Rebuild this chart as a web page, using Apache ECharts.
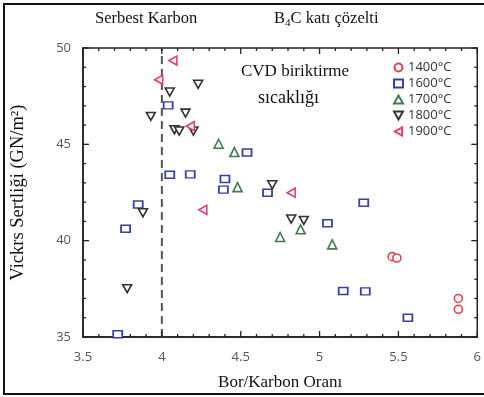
<!DOCTYPE html>
<html>
<head>
<meta charset="utf-8">
<script src="https://cdn.jsdelivr.net/npm/echarts@6/dist/echarts.min.js"></script>
<style>
  html, body { margin: 0; padding: 0; background: #fff; }
  #chart { width: 484px; height: 397px; }
</style>
</head>
<body>
<div id="chart"></div>
<script>
// sıcaklıklar (legend)
var temps = ['1400°C', '1600°C', '1700°C', '1800°C', '1900°C'];

// [Bor/Karbon oranı, Vickers sertliği]
var pts1400 = [[5.46, 39.17], [5.49, 39.1], [5.88, 37.0], [5.88, 36.44]];
var pts1600 = [[4.04, 47.02], [4.05, 43.42], [4.18, 43.44], [4.54, 44.58], [4.40, 43.2],
  [4.39, 42.65], [4.67, 42.49], [5.28, 41.97], [5.05, 40.9], [5.15, 37.39],
  [5.29, 37.37], [5.56, 36.0], [3.85, 41.88], [3.77, 40.62], [3.72, 35.14]];
var pts1700 = [[4.36, 45.03], [4.46, 44.6], [4.48, 42.78], [4.88, 40.59], [4.75, 40.19], [5.08, 39.81]];
var pts1800 = [[4.23, 48.12], [4.05, 47.71], [3.93, 46.45], [4.15, 46.62], [4.08, 45.76],
  [4.11, 45.69], [4.20, 45.69], [3.88, 41.45], [3.78, 37.51], [4.70, 42.9],
  [4.82, 41.12], [4.90, 41.05]];
var pts1900 = [[4.07, 49.35], [3.98, 48.35], [4.18, 45.94], [4.26, 41.6], [4.82, 42.49]];

var xRange = [3.5, 6];
var yRange = [35, 50];
var boundary = 4.0;   // serbest karbon / B4C sınırı

var colors = ['#e0434f', '#3b3fa3', '#3d7d52', '#333333', '#e23a82'];
// aşağı ve sola bakan üçgenler path olarak, legend de aynı simgeyi alsın
var symbols = ['circle', 'rect', 'triangle',
  'path://M0,0 L10,0 L5,9 Z',
  'path://M9,0 L9,10 L0,5 Z'];
var sizes = [8, [9, 7], 9, [9, 8], [8, 9]];
var allPts = [pts1400, pts1600, pts1700, pts1800, pts1900];

var chart = echarts.init(document.getElementById('chart'));

var serif = 'Liberation Serif';
var sans = 'Open Sans';

// kenar tikleri: ince dolu dikdörtgenler (x her 0.1, y her 1), dört kenarda içe doğru
var tickData = [];
for (var i = 35; i <= 60; i++) {
  var lx = i % 5 === 0 ? 6 : 3;
  tickData.push({ value: [i / 10, yRange[0]], symbolSize: [1.3, lx], symbolOffset: [0, -lx / 2] });
  tickData.push({ value: [i / 10, yRange[1]], symbolSize: [1.3, lx], symbolOffset: [0, lx / 2] });
}
for (var j = 35; j <= 50; j++) {
  var ly = j % 5 === 0 ? 6 : 3;
  tickData.push({ value: [xRange[0], j], symbolSize: [ly, 1.3], symbolOffset: [ly / 2, 0] });
  tickData.push({ value: [xRange[1], j], symbolSize: [ly, 1.3], symbolOffset: [-ly / 2, 0] });
}

var series = temps.map(function (t, i) {
  return {
    name: t,
    type: 'scatter',
    data: allPts[i],
    symbol: symbols[i],
    symbolSize: sizes[i],
    itemStyle: { color: '#fff', borderColor: colors[i], borderWidth: 1.6, opacity: 1 },
    z: 5
  };
});
series.push({
  name: 'sinir',
  type: 'line',
  data: [[boundary, yRange[0]], [boundary, yRange[1]]],
  symbol: 'none',
  lineStyle: { color: '#555', width: 2, type: [8, 5] },
  silent: true,
  z: 3
});
series.push({
  name: 'tikler',
  type: 'scatter',
  data: tickData,
  symbol: 'rect',
  clip: false,
  silent: true,
  itemStyle: { color: '#222', borderWidth: 0, opacity: 1 },
  emphasis: { disabled: true },
  z: 4
});

var options = {
  grid: { left: 83, top: 48, width: 400, height: 289, show: true,
    borderColor: '#222', borderWidth: 1.5, backgroundColor: 'transparent' },
  legend: {
    data: temps,
    orient: 'vertical',
    left: 388,
    top: 56,
    itemWidth: 9,
    itemHeight: 8,
    itemGap: 3,
    textStyle: { fontFamily: sans, fontSize: 13, color: '#333' }
  },
  xAxis: {
    type: 'value', min: xRange[0], max: xRange[1], interval: 0.5,
    axisLine: { show: true, lineStyle: { color: '#222', width: 1.5 } },
    axisTick: { show: false },
    splitLine: { show: false },
    axisLabel: { color: '#555', fontFamily: sans, fontSize: 13, margin: 14 },
    name: 'Bor/Karbon Oranı',
    nameLocation: 'middle',
    nameGap: 37,
    nameTextStyle: { fontFamily: serif, fontSize: 17, color: '#111' }
  },
  yAxis: {
    type: 'value', min: yRange[0], max: yRange[1], interval: 5,
    axisLine: { show: true, lineStyle: { color: '#222', width: 1.5 } },
    axisTick: { show: false },
    splitLine: { show: false },
    axisLabel: { color: '#555', fontFamily: sans, fontSize: 13, margin: 12 },
    name: 'Vickrs Sertliği (GN/m²)',
    nameLocation: 'middle',
    nameGap: 55,
    nameTextStyle: { fontFamily: serif, fontSize: 18.5, color: '#111' }
  },
  graphic: [
    { type: 'rect', left: 3, top: 3, shape: { width: 490, height: 390 },
      style: { fill: 'transparent', stroke: '#111', lineWidth: 2 }, silent: true },
    { type: 'text', left: 95, top: 10,
      style: { text: 'Serbest Karbon', fontFamily: serif, fontSize: 16.5, fill: '#111' } },
    { type: 'text', left: 274, top: 9,
      style: {
        text: '{a|B}{s|4}{a|C katı çözelti}',
        rich: {
          a: { fontFamily: serif, fontSize: 16.5, fill: '#111', lineHeight: 20 },
          s: { fontFamily: serif, fontSize: 11, fill: '#111', lineHeight: 20, verticalAlign: 'bottom', padding: [9, 0, 0, 0] }
        }
      } },
    { type: 'text', left: 241, top: 63,
      style: { text: 'CVD biriktirme', fontFamily: serif, fontSize: 17, fill: '#111' } },
    { type: 'text', left: 258, top: 89,
      style: { text: 'sıcaklığı', fontFamily: serif, fontSize: 18, fill: '#111' } }
  ],
  series: series
};

chart.setOption(options);
</script>
</body>
</html>
